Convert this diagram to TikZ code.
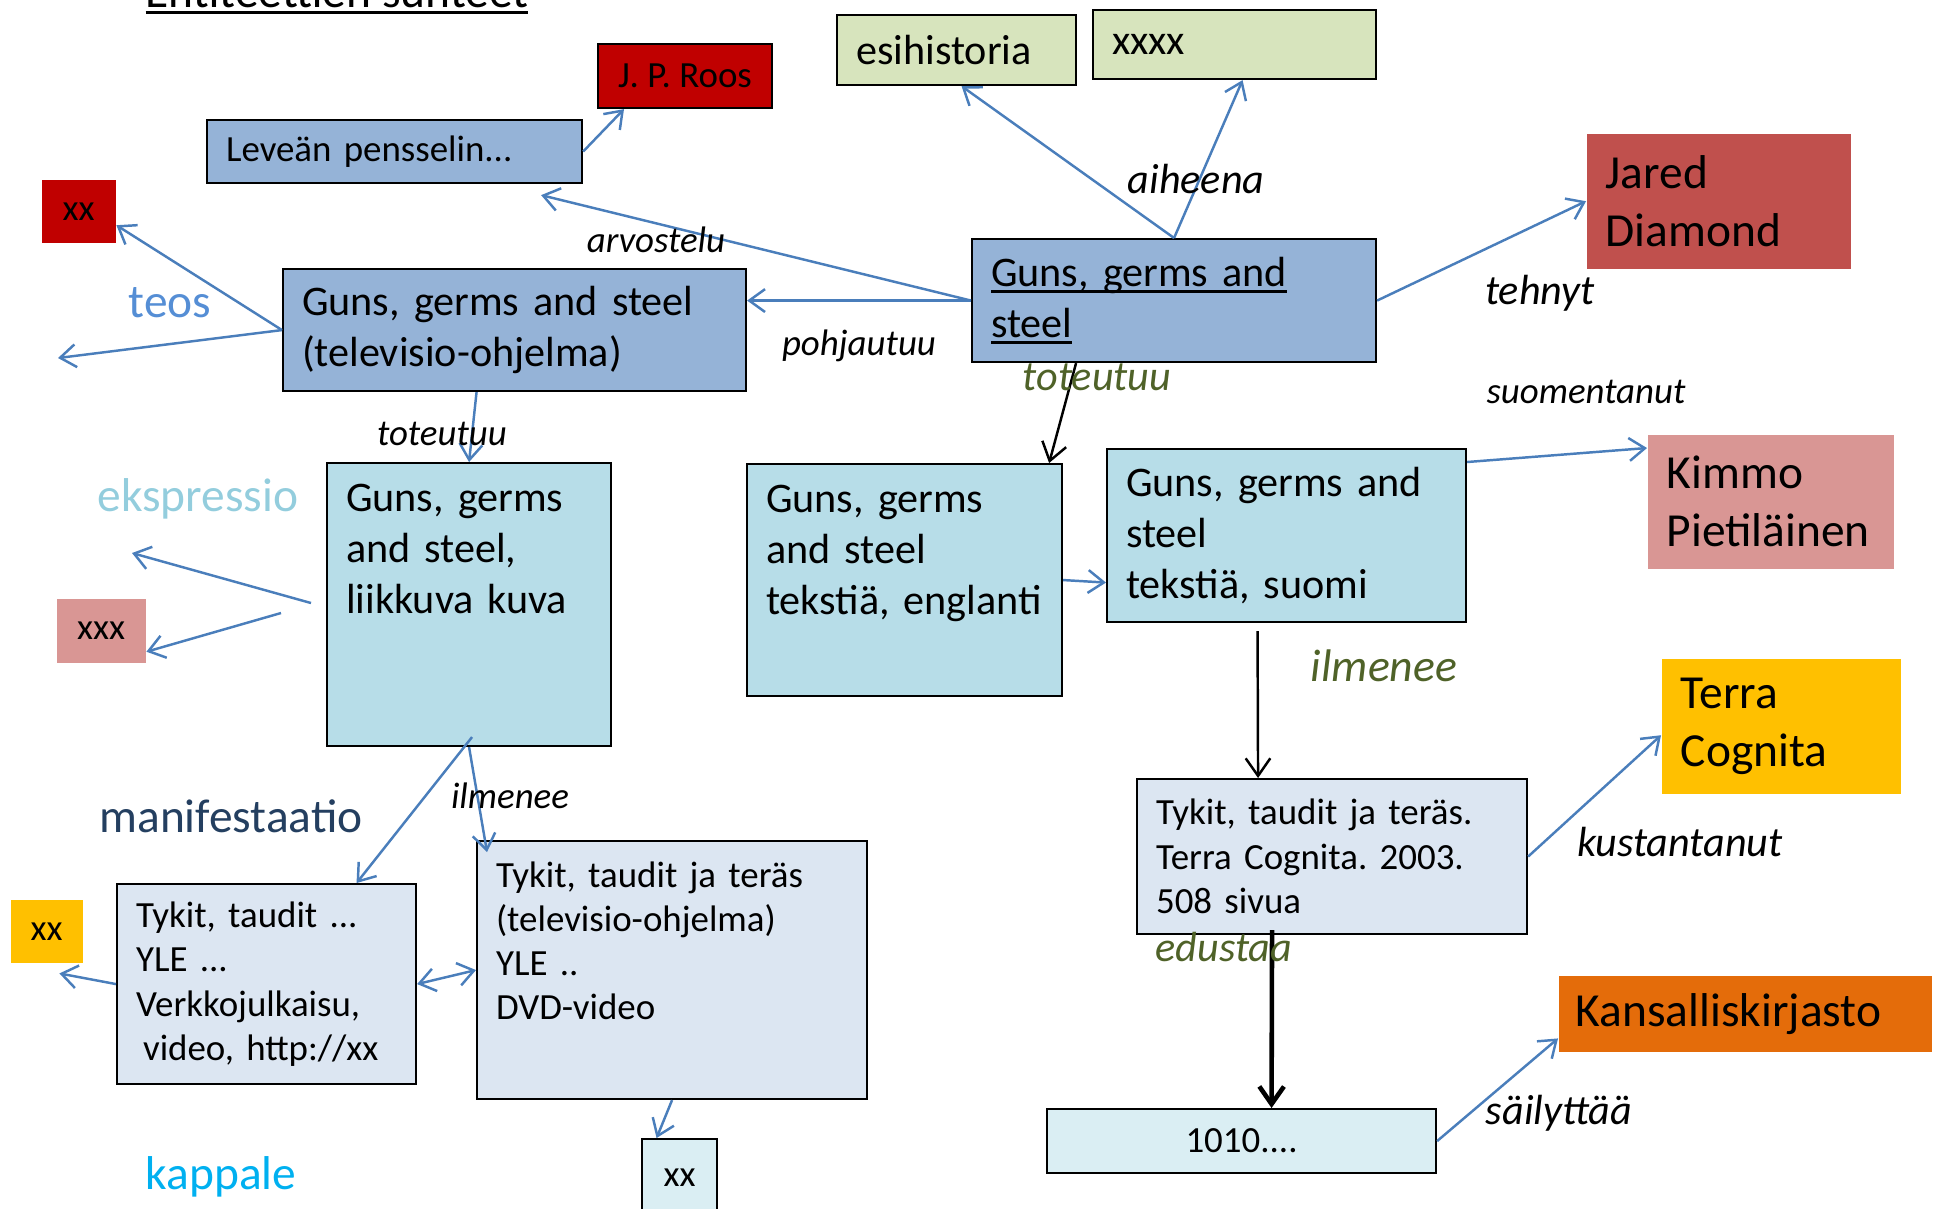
\documentclass[tikz,border=0pt]{standalone}
\usepackage{fontspec}
\setmainfont{Carlito}
\usetikzlibrary{arrows.meta, positioning, calc}
\frenchspacing

\definecolor{boxblue}{HTML}{95B3D7}
\definecolor{boxgreen}{HTML}{D7E4BD}
\definecolor{darkred1}{HTML}{C00000}
\definecolor{redbrown}{HTML}{C0504D}
\definecolor{ltcyan}{HTML}{B7DDE8}
\definecolor{pink1}{HTML}{D99694}
\definecolor{gold1}{HTML}{FFC000}
\definecolor{paleblue}{HTML}{DCE6F2}
\definecolor{palecyan}{HTML}{DAEEF3}
\definecolor{orange1}{HTML}{E46C0A}
\definecolor{linkblue}{HTML}{4A7EBB}
\definecolor{olive1}{HTML}{4F6228}
\definecolor{teosblue}{HTML}{558ED5}
\definecolor{ekspcyan}{HTML}{93CDDD}
\definecolor{manifnavy}{HTML}{243F60}
\definecolor{kappcyan}{HTML}{00B0F0}

\newcommand{\fbig}{\fontsize{12}{14.5}\selectfont}
\newcommand{\fsmall}{\fontsize{10.5}{12.6}\selectfont}
\newcommand{\fname}{\fontsize{13.5}{16.5}\selectfont}
\newsavebox{\undrlbox}
\newcommand{\undrl}[1]{\leavevmode\sbox{\undrlbox}{#1}\rlap{\rule[-1.9pt]{\wd\undrlbox}{0.8pt}}\usebox{\undrlbox}}

\begin{document}
\begin{tikzpicture}[
  box/.style={anchor=north west, align=left, inner xsep=0.19cm, inner ysep=0pt},
  framed/.style={box, draw=black, line width=0.6pt},
  rel/.style={draw=linkblue, line width=0.7pt, -{Straight Barb[length=4.5pt,width=6.5pt]}},
  relblack/.style={draw=black, line width=0.7pt, -{Straight Barb[length=5pt,width=7pt]}},
  lbl/.style={font=\fsmall\itshape},
  cat/.style={font=\fname}
]
  \useasboundingbox (0,0) rectangle (19.37,-12.08);

  % title
  \node[font=\fname, anchor=base, inner sep=0pt] (title) at (3.37,-0.07) {\undrl{Entiteettien suhteet}};

  % teos level
  \node[framed, fill=boxblue, font=\fsmall, minimum width=3.75cm, text width=3.37cm, minimum height=0.63cm] (lev) at (2.06,-1.19) {Leveän pensselin...};
  \node[framed, fill=darkred1, font=\fsmall, align=center, minimum width=1.74cm, minimum height=0.64cm] (roos) at (5.97,-0.43) {J. P. Roos};
  \node[box, fill=darkred1, font=\fsmall, align=center, minimum width=0.74cm, minimum height=0.63cm] (xxred) at (0.41,-1.79) {xx};
  \node[framed, fill=boxgreen, font=\fbig, minimum width=2.39cm, text width=2.01cm, minimum height=0.70cm] (esih) at (8.36,-0.14) {esihistoria};
  \node[framed, fill=boxgreen, font=\fbig, minimum width=2.83cm, text width=2.45cm, minimum height=0.69cm] (xxxx) at (10.92,-0.09) {xxxx};
  \node[framed, fill=boxblue, font=\fbig, minimum width=4.04cm, text width=3.66cm, minimum height=1.23cm] (main) at (9.71,-2.38) {\undrl{Guns, germs and}\\\undrl{steel}};
  \node[box, fill=redbrown, font=\fname, minimum width=2.64cm, text width=2.26cm, minimum height=1.35cm] (jared) at (15.86,-1.33) {Jared\\Diamond};
  \node[framed, fill=boxblue, font=\fbig, minimum width=4.63cm, text width=4.25cm, minimum height=1.22cm] (tele) at (2.82,-2.68) {Guns, germs and steel\\(televisio-ohjelma)};

  % ekspressio level
  \node[framed, fill=ltcyan, font=\fbig, minimum width=2.84cm, text width=2.46cm, text height=13.7pt, text depth=66.8pt] (liik) at (3.26,-4.62) {Guns, germs\\and steel,\\liikkuva kuva};
  \node[framed, fill=ltcyan, font=\fbig, minimum width=3.15cm, text width=2.77cm, text height=13.7pt, text depth=52.3pt] (eng) at (7.46,-4.63) {Guns, germs\\and steel\\tekstiä,~englanti};
  \node[framed, fill=ltcyan, font=\fbig, minimum width=3.59cm, text width=3.21cm, minimum height=1.73cm] (suomi) at (11.06,-4.48) {Guns, germs and\\steel\\tekstiä, suomi};
  \node[box, fill=pink1, font=\fname, minimum width=2.46cm, text width=2.08cm, minimum height=1.34cm] (kimmo) at (16.47,-4.34) {Kimmo\\Pietiläinen};
  \node[box, fill=pink1, font=\fsmall, align=center, minimum width=0.89cm, minimum height=0.64cm] (xxx) at (0.56,-5.98) {xxx};

  % manifestaatio level
  \node[box, fill=gold1, font=\fname, minimum width=2.39cm, text width=2.01cm, minimum height=1.35cm] (terra) at (16.61,-6.58) {Terra\\Cognita};
  \node[framed, fill=paleblue, font=\fsmall, minimum width=3.90cm, text width=3.52cm, minimum height=1.55cm] (book) at (11.36,-7.78) {Tykit, taudit ja teräs.\\Terra Cognita. 2003.\\508 sivua};
  \node[framed, fill=paleblue, font=\fsmall, minimum width=2.99cm, text width=2.61cm, minimum height=2.00cm] (tykitL) at (1.16,-8.83) {Tykit, taudit ...\\YLE ...\\Verkkojulkaisu,\\\hspace*{2pt}video, http://xx};
  \node[framed, fill=paleblue, font=\fsmall, minimum width=3.90cm, text width=3.52cm, text height=13.1pt, text depth=60.3pt] (tykitR) at (4.76,-8.40) {Tykit, taudit ja teräs\\(televisio-ohjelma)\\YLE ..\\DVD-video};
  \node[box, fill=gold1, font=\fsmall, align=center, minimum width=0.72cm, minimum height=0.63cm] (xxyel) at (0.10,-8.99) {xx};

  % kappale level
  \node[framed, fill=palecyan, font=\fsmall, align=center, minimum width=0.75cm, minimum height=0.77cm] (xxbot) at (6.41,-11.38) {xx};
  \node[framed, fill=palecyan, font=\fsmall, align=center, minimum width=3.89cm, minimum height=0.64cm] (n1010) at (10.46,-11.08) {1010....};
  \node[box, fill=orange1, font=\fname, inner xsep=0.17cm, minimum width=3.73cm, text width=3.39cm, minimum height=0.76cm] (kans) at (15.58,-9.75) {Kansalliskirjasto};

  % level names
  \node[cat, text=teosblue] (teos) at (1.70,-3.03) {teos};
  \node[cat, text=ekspcyan] (eksp) at (1.98,-4.99) {ekspressio};
  \node[cat, text=manifnavy] (manif) at (2.31,-8.16) {manifestaatio};
  \node[cat, text=kappcyan] (kapp) at (2.21,-11.77) {kappale};

  % free ends
  \coordinate (teosend) at (0.58,-3.58);
  \coordinate (eksA) at (3.11,-6.03);
  \coordinate (eksAend) at (1.32,-5.53);
  \coordinate (eksB) at (2.81,-6.13);

  % relations
  \draw[rel] (lev.east) -- ([xshift=0.27cm]roos.south west);
  \draw[rel] (main.west) -- ([xshift=-0.42cm,yshift=-0.11cm]lev.south east);
  \draw[rel] (main.west) -- (main.west -| tele.east);
  \draw[rel] (main.north) -- ([xshift=0.05cm]esih.south);
  \draw[rel] (main.north) -- ([xshift=0.08cm]xxxx.south);
  \draw[rel] (main.east) -- (jared.west);
  \draw[relblack] ([xshift=-0.98cm]main.south) -- ([xshift=-0.14cm]eng.north east);
  \draw[rel] (tele.west) -- ([yshift=-0.14cm]xxred.east);
  \draw[rel] (tele.west) -- (teosend);
  \draw[rel] ([xshift=-0.38cm]tele.south) -- (liik.north);
  \draw[rel] (eksA) -- (eksAend);
  \draw[rel] (eksB) -- ([yshift=-0.21cm]xxx.east);
  \draw[rel] ([xshift=0.03cm,yshift=0.1cm]liik.south) -- ([xshift=0.9cm]tykitL.north);
  \draw[rel] (liik.south) -- ([xshift=0.11cm,yshift=-0.12cm]tykitR.north west);
  \draw[rel, {Straight Barb[length=4.5pt,width=6.5pt]}-{Straight Barb[length=4.5pt,width=6.5pt]}] (tykitL.east) -- (tykitR.west);
  \draw[rel] (tykitL.west) -- ([xshift=-0.24cm,yshift=-0.1cm]xxyel.south east);
  \draw[rel] (tykitR.south) -- ([xshift=-0.23cm]xxbot.north);
  \draw[rel] ([yshift=-0.14cm]suomi.north east) -- ([yshift=-0.14cm]kimmo.north west);
  \draw[rel] (eng.east) -- ([yshift=-0.47cm]suomi.west);
  \draw[relblack] ([xshift=-0.29cm,yshift=-0.08cm]suomi.south) -- ([xshift=-0.74cm]book.north);
  \draw[rel] (book.east) -- ([yshift=-0.09cm]terra.west);
  \draw[relblack, line width=1.3pt] ([xshift=-0.6cm,yshift=0.05cm]book.south) -- ([xshift=0.3cm]n1010.north);
  \draw[rel] (n1010.east) -- ([yshift=0.14cm]kans.south west);

  % relation names
  \node[lbl] (arvostelu) at (6.56,-2.40) {arvostelu};
  \node[lbl] (pohjautuu) at (8.59,-3.46) {pohjautuu};
  \node[lbl, font=\fbig\itshape] (aiheena) at (11.96,-1.79) {aiheena};
  \node[lbl, font=\fbig\itshape] (tehnyt) at (15.40,-2.93) {tehnyt};
  \node[lbl, font=\fbig\itshape, text=olive1] (toteutuuA) at (10.97,-3.77) {toteutuu};
  \node[lbl] (toteutuuB) at (4.42,-4.34) {toteutuu};
  \node[lbl] (suomentanut) at (15.86,-3.92) {suomentanut};
  \node[lbl, font=\fontsize{13}{15}\selectfont\itshape, text=olive1] (ilmeneeA) at (13.84,-6.66) {ilmenee};
  \node[lbl] (ilmeneeB) at (5.10,-7.96) {ilmenee};
  \node[lbl, font=\fbig\itshape] (kustantanut) at (16.80,-8.42) {kustantanut};
  \node[lbl, font=\fbig\itshape, text=olive1] (edustaa) at (12.24,-9.47) {edustaa};
  \node[lbl, font=\fbig\itshape] (sailyttaa) at (15.59,-11.13) {säilyttää};
\end{tikzpicture}
\end{document}
